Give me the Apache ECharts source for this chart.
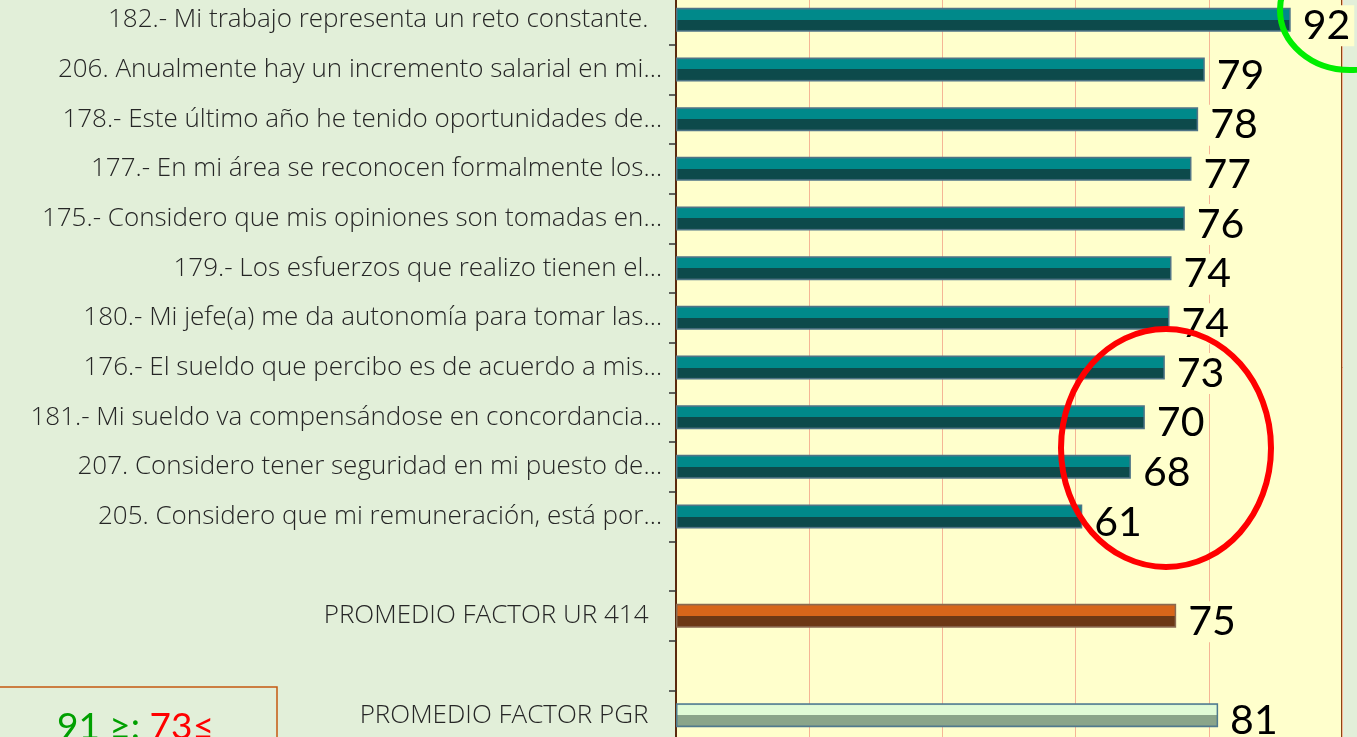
<!DOCTYPE html>
<html>
<head>
<meta charset="utf-8">
<script src="https://cdn.jsdelivr.net/npm/echarts@6/dist/echarts.min.js"></script>
<style>
html,body{margin:0;padding:0;background:#e2efd9;overflow:hidden;width:1357px;height:737px;}
#chart{position:absolute;left:0;top:-5px;width:1357px;height:745px;}
</style>
</head>
<body>
<div id="chart"></div>
<script>
const categories = [
  "182.- Mi trabajo representa un reto constante.  ",
  "206. Anualmente hay un incremento salarial en mi…",
  "178.- Este último año he tenido oportunidades de…",
  "177.- En mi área se reconocen formalmente los…",
  "175.- Considero que mis opiniones son tomadas en…",
  "179.- Los esfuerzos que realizo tienen el…",
  "180.- Mi jefe(a) me da autonomía para tomar las…",
  "176.- El sueldo que percibo es de acuerdo a mis…",
  "181.- Mi sueldo va compensándose en concordancia…",
  "207. Considero tener seguridad en mi puesto de…",
  "205. Considero que mi remuneración, está por…",
  "",
  "PROMEDIO FACTOR UR 414  ",
  " ",
  "PROMEDIO FACTOR PGR  "
];
// values; labels show them rounded
const itemValues = [92.3, 79.4, 78.4, 77.4, 76.4, 74.4, 74.1, 73.4, 70.4, 68.3, 61.0];
const promedioUR = 75.1;
const promedioPGR = 81.4;
const xTicks = [0, 20, 40, 60, 80, 100];

function grad(top, upper, lower, bottom) {
  return new echarts.graphic.LinearGradient(0, 0, 0, 1, [
    {offset: 0, color: top},
    {offset: 0.1, color: upper},
    {offset: 0.5, color: upper},
    {offset: 0.5, color: lower},
    {offset: 0.9, color: lower},
    {offset: 1, color: bottom}
  ]);
}
const tealStyle = {color: grad('#4a7f92', '#00898a', '#0d4a4b', '#3e5e64'), borderColor: '#4f7486', borderWidth: 1.5};
const orangeStyle = {color: grad('#9a6a48', '#d8661a', '#6c3815', '#8a6048'), borderColor: '#8a6a50', borderWidth: 1.5};
const pgrStyle = {color: grad('#5d8aa0', '#e0fbd6', '#8aa58a', '#567585'), borderColor: '#4f7a8e', borderWidth: 1.5};

const barData = [];
itemValues.forEach(v => barData.push({value: v, itemStyle: tealStyle}));
barData.push('-');
barData.push({value: promedioUR, itemStyle: orangeStyle});
barData.push('-');
barData.push({value: promedioPGR, itemStyle: pgrStyle});

const OFF = 5; // canvas is shifted up by 5px
const chart = echarts.init(document.getElementById('chart'));
chart.setOption({
  backgroundColor: '#e2efd9',
  animation: false,
  grid: {
    left: 676, right: 15, top: 0, bottom: 0,
    show: true, backgroundColor: '#ffffcc', borderColor: '#8b4513', borderWidth: 2
  },
  xAxis: {
    type: 'value', min: xTicks[0], max: xTicks[xTicks.length - 1], interval: 20,
    axisLabel: {show: false}, axisLine: {show: false}, axisTick: {show: false},
    splitLine: {show: true, lineStyle: {color: '#f5b595', width: 1}}
  },
  yAxis: {
    type: 'category', inverse: true, data: categories,
    axisLine: {show: true, lineStyle: {color: '#5a2a0e', width: 2}},
    axisTick: {show: true, length: 7, lineStyle: {color: '#333', width: 1.5}},
    axisLabel: {
      margin: 14, fontSize: 26, color: '#262626',
      fontFamily: 'Open Sans', fontWeight: 300
    }
  },
  series: [{
    type: 'bar', data: barData, barWidth: 24,
    label: {
      show: true, position: 'right', distance: 8,
      formatter: p => Math.round(p.value),
      fontSize: 41, fontFamily: 'Lato', color: '#000',
      backgroundColor: '#ffffcc', padding: [0, 4],
      offset: [0, 6]
    }
  }],
  graphic: [
    {type: 'ellipse', shape: {cx: 1350, cy: 10 + OFF, rx: 70, ry: 60},
     style: {fill: null, stroke: '#00ee00', lineWidth: 6}, z: 100},
    {type: 'ellipse', shape: {cx: 1166, cy: 448 + OFF, rx: 105, ry: 119},
     style: {fill: null, stroke: '#ff0000', lineWidth: 6}, z: 100},
    {type: 'rect', shape: {x: -2, y: 687 + OFF, width: 279, height: 80},
     style: {fill: '#e2efd9', stroke: '#c55a11', lineWidth: 1.5}, z: 100},
    {type: 'text', x: 57, y: 727 + OFF, z: 101,
     style: {
       text: '{g|91 ≥: }{r|73≤}', verticalAlign: 'middle',
       rich: {
         g: {fontSize: 37, fontFamily: 'Lato', fill: '#00a000'},
         r: {fontSize: 37, fontFamily: 'Lato', fill: '#ff0000'}
       }
     }}
  ]
});
</script>
</body>
</html>
